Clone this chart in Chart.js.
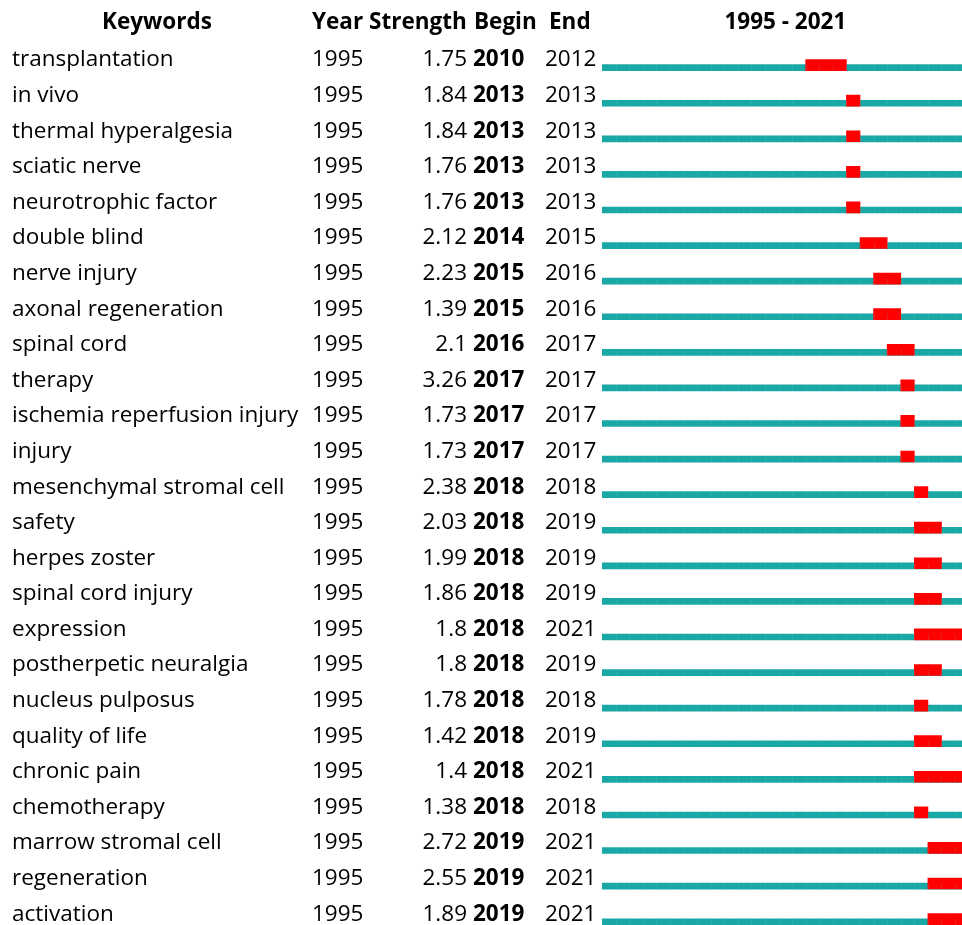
<!DOCTYPE html>
<html>
<head>
    <title>Keywords with the Strongest Citation Bursts</title>
    <script src="https://cdn.jsdelivr.net/npm/chart.js@4.4.1/dist/chart.umd.min.js"></script>
    <style>
        html, body {
            margin: 0;
            padding: 0;
            background: #fff;
            overflow: hidden;
        }
        .chart-box {
            position: relative;
            width: 962px;
            height: 940px;
        }
    </style>
</head>
<body>
    <div class="chart-box">
        <canvas id="burstChart"></canvas>
    </div>

    <script>
        const keywords = [
            'transplantation', 'in vivo', 'thermal hyperalgesia', 'sciatic nerve',
            'neurotrophic factor', 'double blind', 'nerve injury', 'axonal regeneration',
            'spinal cord', 'therapy', 'ischemia reperfusion injury', 'injury',
            'mesenchymal stromal cell', 'safety', 'herpes zoster', 'spinal cord injury',
            'expression', 'postherpetic neuralgia', 'nucleus pulposus', 'quality of life',
            'chronic pain', 'chemotherapy', 'marrow stromal cell', 'regeneration', 'activation'
        ];
        const firstYear = [1995, 1995, 1995, 1995, 1995, 1995, 1995, 1995, 1995, 1995, 1995, 1995, 1995,
                           1995, 1995, 1995, 1995, 1995, 1995, 1995, 1995, 1995, 1995, 1995, 1995];
        const strength = [1.75, 1.84, 1.84, 1.76, 1.76, 2.12, 2.23, 1.39, 2.1, 3.26, 1.73, 1.73, 2.38,
                          2.03, 1.99, 1.86, 1.8, 1.8, 1.78, 1.42, 1.4, 1.38, 2.72, 2.55, 1.89];
        const beginYear = [2010, 2013, 2013, 2013, 2013, 2014, 2015, 2015, 2016, 2017, 2017, 2017, 2018,
                           2018, 2018, 2018, 2018, 2018, 2018, 2018, 2018, 2018, 2019, 2019, 2019];
        const endYear = [2012, 2013, 2013, 2013, 2013, 2015, 2016, 2016, 2017, 2017, 2017, 2017, 2018,
                         2019, 2019, 2019, 2021, 2019, 2018, 2019, 2021, 2018, 2021, 2021, 2021];
        const spanStart = 1995;
        const spanEnd = 2021;

        const FONT = '"Open Sans", "Noto Sans", sans-serif';

        // each year is one cell: a burst covers [begin, end + 1)
        const burstData = beginYear.map((b, i) => [b, endYear[i] + 1]);
        const timelineData = keywords.map(() => [spanStart, spanEnd + 1]);

        // push bars down from the row centre so they sit under the text baseline
        const barShift = {
            id: 'barShift',
            afterDatasetsUpdate(chart) {
                chart.data.datasets.forEach((ds, di) => {
                    const dy = ds.shiftY || 0;
                    chart.getDatasetMeta(di).data.forEach(el => { el.y += dy; });
                });
            }
        };

        // faint year dividers across the bars, like the original cells
        const yearCells = {
            id: 'yearCells',
            afterDatasetsDraw(chart) {
                const ctx = chart.ctx;
                const xs = chart.scales.x;
                ctx.save();
                chart.data.datasets.forEach((ds, di) => {
                    chart.getDatasetMeta(di).data.forEach(el => {
                        const top = el.y - el.height / 2;
                        const x0 = Math.min(el.x, el.base);
                        const x1 = Math.max(el.x, el.base);
                        ctx.fillStyle = ds.cellLine;
                        for (let yr = spanStart + 1; yr <= spanEnd + 1; yr++) {
                            const px = Math.round(xs.getPixelForValue(yr));
                            if (px > x0 + 1 && px < x1 - 1) {
                                ctx.fillRect(px, top, 1, el.height);
                            }
                        }
                    });
                });
                ctx.restore();
            }
        };

        // the table columns on the left and the header row
        const tableText = {
            id: 'tableText',
            afterDraw(chart) {
                const ctx = chart.ctx;
                const ys = chart.scales.y;
                const xs = chart.scales.x;
                ctx.save();
                ctx.fillStyle = '#000';
                ctx.textBaseline = 'alphabetic';

                const headY = 28.5;
                ctx.font = 'bold 22.5px ' + FONT;
                ctx.textAlign = 'center';
                ctx.fillText('Keywords', 157, headY);
                ctx.fillText(spanStart + ' - ' + spanEnd, (xs.getPixelForValue(spanStart) + xs.getPixelForValue(spanEnd + 1)) / 2, headY);
                ctx.textAlign = 'left';
                ctx.fillText('Year', 312, headY);
                ctx.fillText('Strength', 369, headY);
                ctx.fillText('Begin', 474, headY);
                ctx.fillText('End', 549, headY);

                keywords.forEach((kw, i) => {
                    const y = ys.getPixelForValue(i) + 9.5;
                    ctx.font = '22.5px ' + FONT;
                    ctx.textAlign = 'left';
                    ctx.fillText(kw, 12, y);
                    ctx.fillText(String(firstYear[i]), 312, y);
                    ctx.textAlign = 'right';
                    ctx.fillText(String(strength[i]), 467, y);
                    ctx.textAlign = 'left';
                    ctx.font = 'bold 22.5px ' + FONT;
                    ctx.fillText(String(beginYear[i]), 473, y);
                    ctx.font = '22.5px ' + FONT;
                    ctx.fillText(String(endYear[i]), 545, y);
                });
                ctx.restore();
            }
        };

        const ctx = document.getElementById('burstChart').getContext('2d');
        new Chart(ctx, {
            type: 'bar',
            data: {
                labels: keywords,
                datasets: [
                    {
                        label: 'Burst',
                        data: burstData,
                        backgroundColor: '#ff0000',
                        barThickness: 11,
                        shiftY: 8.1,
                        cellLine: 'rgba(200,0,0,0.15)'
                    },
                    {
                        label: 'Timeline',
                        data: timelineData,
                        backgroundColor: '#19a8a5',
                        barThickness: 6,
                        shiftY: 10.7,
                        cellLine: 'rgba(140,220,215,0.15)'
                    }
                ]
            },
            options: {
                indexAxis: 'y',
                responsive: true,
                maintainAspectRatio: false,
                animation: false,
                layout: {
                    padding: { left: 602, right: 0, top: 39.2, bottom: 11.2 }
                },
                datasets: {
                    bar: { grouped: false, borderWidth: 0 }
                },
                scales: {
                    x: { type: 'linear', min: spanStart, max: 2021.51, display: false },
                    y: { display: false }
                },
                plugins: {
                    legend: { display: false },
                    tooltip: { enabled: false }
                }
            },
            plugins: [barShift, yearCells, tableText]
        });
    </script>
</body>
</html>
